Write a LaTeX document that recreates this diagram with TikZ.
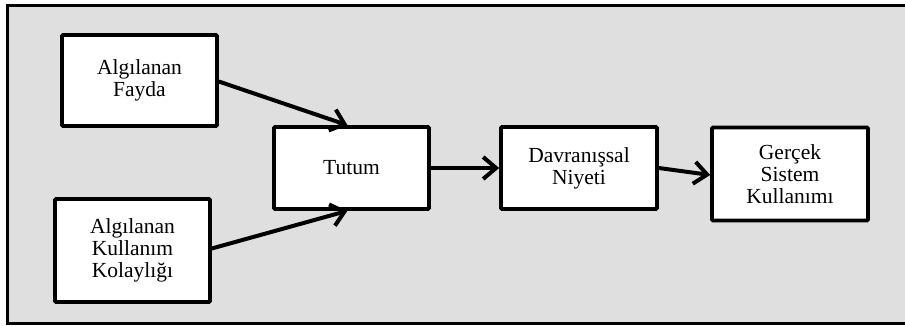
\documentclass[tikz,border=0pt]{standalone}
\usepackage{fontspec}
\setmainfont{Liberation Serif}
\usetikzlibrary{arrows.meta}
\definecolor{panelgray}{HTML}{DFDFDF}
\tikzset{
  box/.style={draw=black, fill=white, line width=3.6pt, rounded corners=1pt,
    inner sep=0pt, align=center, font=\fontsize{21.5}{22}\selectfont},
  link/.style={line width=4pt, -{Straight Barb[length=13pt,width=22pt,line width=4pt]}}
}
\begin{document}
\begin{tikzpicture}[x=1pt,y=-1pt]
\useasboundingbox (0,0) rectangle (905,326);
\fill[white] (0,0) rectangle (905,326);
\draw[line width=3pt, fill=panelgray] (7,6) rectangle (912,323);
\node[box, minimum width=155pt, minimum height=91pt] (fayda) at (139.5,80.5) {Algılanan\\Fayda};
\node[box, minimum width=155pt, minimum height=103pt] (kol) at (132.5,250.5) {Algılanan\\Kullanım\\Kolaylığı};
\node[box, minimum width=155pt, minimum height=82pt] (tutum) at (351.5,168) {Tutum};
\node[box, minimum width=156pt, minimum height=82pt] (dav) at (579,168) {Davranışsal\\Niyeti};
\node[box, minimum width=156pt, minimum height=93pt] (ger) at (790,174) {Gerçek\\Sistem\\Kullanımı};
\draw[link] ([yshift=-1pt]fayda.east) -- ([xshift=-4pt]tutum.north);
\draw[link] ([yshift=2pt]kol.east) -- ([xshift=-4pt]tutum.south);
\draw[link] (tutum.east) -- (dav.west);
\draw[link] (dav.east) -- ([yshift=-1pt]ger.west);
\end{tikzpicture}
\end{document}
